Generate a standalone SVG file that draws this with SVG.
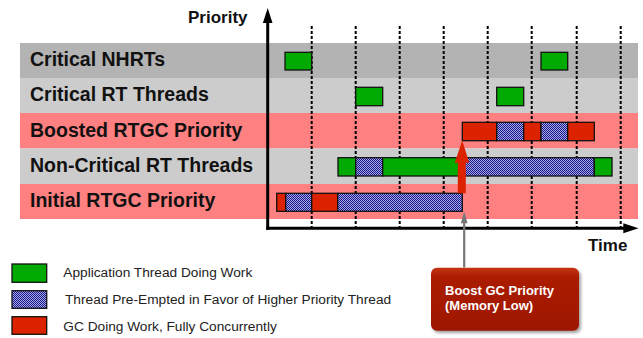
<svg xmlns="http://www.w3.org/2000/svg" width="643" height="338" viewBox="0 0 643 338">
<defs>
<pattern id="dots" width="2" height="2" patternUnits="userSpaceOnUse">
<rect width="2" height="2" fill="#a9a9e6"/>
<rect width="1" height="1" fill="#15158c"/>
<rect x="1" y="1" width="1" height="1" fill="#15158c"/>
</pattern>
<linearGradient id="boxg" x1="0" y1="0" x2="0" y2="1">
<stop offset="0" stop-color="#c43412"/>
<stop offset="0.15" stop-color="#ab1c00"/>
<stop offset="1" stop-color="#9e1600"/>
</linearGradient>
<filter id="sh" x="-10%" y="-10%" width="130%" height="140%">
<feGaussianBlur stdDeviation="1.5"/>
</filter>
</defs>
<style>
.lbl{font-family:"Liberation Sans",Arial,sans-serif;font-weight:bold;font-size:19.5px;fill:#111}
.ax{font-family:"Liberation Sans",Arial,sans-serif;font-weight:bold;font-size:17px;fill:#111}
.leg{font-family:"Liberation Sans",Arial,sans-serif;font-size:13.7px;fill:#222}
.box{font-family:"Liberation Sans",Arial,sans-serif;font-weight:bold;font-size:13px;fill:#fff}
.g{fill:#00aa00;stroke:#111;stroke-width:1.3}
.b{fill:url(#dots);stroke:#111;stroke-width:1.3}
.r{fill:#dd2200;stroke:#111;stroke-width:1.3}
.grid{stroke:#000;stroke-width:2;stroke-dasharray:3 2}
</style>
<g id="bands">
<rect x="20" y="43" width="618" height="35" fill="#b3b3b3"/>
<rect x="20" y="78" width="618" height="35" fill="#cccccc"/>
<rect x="20" y="113" width="618" height="35.5" fill="#ff8080"/>
<rect x="20" y="148.5" width="618" height="35.5" fill="#cccccc"/>
<rect x="20" y="184" width="618" height="35" fill="#ff8080"/>
</g>
<g id="labels">
<text class="lbl" x="30" y="66">Critical NHRTs</text>
<text class="lbl" x="30" y="101">Critical RT Threads</text>
<text class="lbl" x="30" y="136.5">Boosted RTGC Priority</text>
<text class="lbl" x="30" y="172">Non-Critical RT Threads</text>
<text class="lbl" x="30" y="207">Initial RTGC Priority</text>
</g>
<g id="grid">
<line class="grid" x1="311.7" y1="26" x2="311.7" y2="227"/>
<line class="grid" x1="355.7" y1="26" x2="355.7" y2="227"/>
<line class="grid" x1="399.7" y1="26" x2="399.7" y2="227"/>
<line class="grid" x1="443.7" y1="26" x2="443.7" y2="227"/>
<line class="grid" x1="487.7" y1="26" x2="487.7" y2="227"/>
<line class="grid" x1="531.7" y1="26" x2="531.7" y2="227"/>
<line class="grid" x1="576.7" y1="26" x2="576.7" y2="227"/>
<line class="grid" x1="620.7" y1="26" x2="620.7" y2="227"/>
</g>
<g id="axes">
<line x1="267.7" y1="22" x2="267.7" y2="229.8" stroke="#000" stroke-width="3"/>
<polygon points="267.7,8 272.5,23 262.9,23" fill="#000"/>
<line x1="266.2" y1="228.3" x2="625" y2="228.3" stroke="#000" stroke-width="3"/>
<polygon points="638.5,228.3 623.3,223.3 623.3,233.3" fill="#000"/>
<text class="ax" x="188" y="23">Priority</text>
<text class="ax" x="588" y="251">Time</text>
</g>
<g id="row-critical-nhrts">
<rect class="g" x="285" y="52.3" width="26.7" height="17.7"/>
<rect class="g" x="541" y="52.3" width="26.7" height="17.7"/>
</g>
<g id="row-critical-rt">
<rect class="g" x="355.7" y="87.3" width="27" height="18.4"/>
<rect class="g" x="496.7" y="87.3" width="27" height="18.4"/>
</g>
<g id="row-boosted">
<rect class="r" x="462.3" y="122.3" width="34.4" height="18.4"/>
<rect class="b" x="496.7" y="122.3" width="27" height="18.4"/>
<rect class="r" x="523.7" y="122.3" width="17.3" height="18.4"/>
<rect class="b" x="541" y="122.3" width="26.7" height="18.4"/>
<rect class="r" x="567.7" y="122.3" width="26.6" height="18.4"/>
</g>
<g id="row-noncritical">
<rect class="g" x="338" y="157.7" width="17.7" height="18.3"/>
<rect class="b" x="355.7" y="157.7" width="27" height="18.3"/>
<rect class="g" x="382.7" y="157.7" width="79.6" height="18.3"/>
<rect class="b" x="462.3" y="157.7" width="132" height="18.3"/>
<rect class="g" x="594.3" y="157.7" width="17.7" height="18.3"/>
</g>
<g id="row-initial">
<rect class="r" x="276.7" y="193.3" width="9" height="18"/>
<rect class="b" x="285.7" y="193.3" width="26" height="18"/>
<rect class="r" x="311.7" y="193.3" width="26" height="18"/>
<rect class="b" x="337.7" y="193.3" width="124.6" height="18"/>
</g>
<g id="connectors">
<polygon points="457.8,193.3 457.8,162.7 454.8,162.7 462.2,140.5 469.3,162.7 465.8,162.7 465.8,193.3" fill="#dd2200"/>
<line x1="464.2" y1="267.5" x2="464.2" y2="222" stroke="#777" stroke-width="2.2"/>
<polygon points="464.2,211.5 467.6,223.3 460.8,223.3" fill="#777"/>
</g>
<g id="callout">
<rect x="433" y="270" width="148" height="63" rx="6" fill="#555" opacity="0.55" filter="url(#sh)"/>
<rect x="431" y="267.7" width="148" height="63" rx="6" fill="url(#boxg)"/>
<text class="box" x="445" y="294.5">Boost GC Priority</text>
<text class="box" x="445" y="309.5">(Memory Low)</text>
</g>
<g id="legend">
<rect class="g" x="12" y="264" width="34.7" height="18.3"/>
<rect class="b" x="12" y="290.7" width="34.7" height="17.6"/>
<rect class="r" x="12" y="316.7" width="34.7" height="17.6"/>
<text class="leg" x="63.3" y="277">Application Thread Doing Work</text>
<text class="leg" x="65" y="304">Thread Pre-Empted in Favor of Higher Priority Thread</text>
<text class="leg" x="63.3" y="331">GC Doing Work, Fully Concurrently</text>
</g>
</svg>
